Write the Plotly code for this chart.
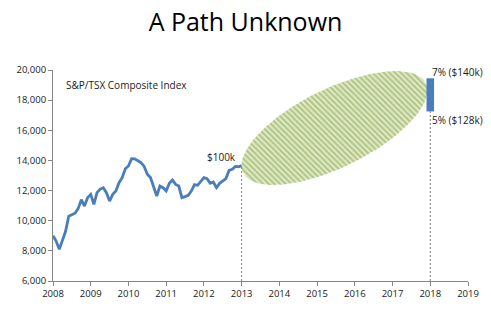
import numpy as np
import plotly.graph_objects as go

# --- data ---
index_values = [9000, 8650, 8100, 8760, 9300, 10300, 10420, 10500, 10800, 11400,
                10970, 11530, 11750, 11090, 11860, 12100, 12190, 11860, 11300, 11750,
                11970, 12520, 12860, 13450, 13630, 14120, 14100, 14000, 13850, 13600,
                13080, 12860, 12300, 11640, 12300, 12190, 11970, 12480, 12700, 12410,
                12300, 11530, 11600, 11690, 11970, 12400, 12350, 12630, 12860, 12790,
                12480, 12570, 12190, 12480, 12650, 12800, 13340, 13410, 13600, 13580,
                13650]
start_year = 2008
end_year = 2013
target_year = 2018
target_low = 17250    # 5% ($128k)
target_high = 19450   # 7% ($140k)
label_low = "5% ($128k)"
label_high = "7% ($140k)"
label_start = "$100k"
series_name = "S&P/TSX Composite Index"
year_ticks = list(range(2008, 2020))

months = np.arange(len(index_values))
x_dates = start_year + months / 12.0

# --- ellipse (cone of outcomes), defined in screen aspect then mapped to data ---
px_per_year = 37.9
px_per_unit = 211.0 / 14000.0
center = (2015.46, 16150)      # data coords
half_w_px = 93.4               # horizontal half extent (px)
half_h_px = 57.0               # vertical half extent (px)
cov_px = 3500.0                # tilt (up to the right)
a = half_w_px
b = cov_px / a
c = np.sqrt(half_h_px ** 2 - b ** 2)
t = np.linspace(0, 2 * np.pi, 240)
dx_px = a * np.cos(t)
dy_px = b * np.cos(t) + c * np.sin(t)
ell_x = center[0] + dx_px / px_per_year
ell_y = center[1] + dy_px / px_per_unit

fig = go.Figure()

fig.add_trace(go.Scatter(
    x=ell_x, y=ell_y, mode="lines", fill="toself",
    line=dict(width=0, color="rgba(0,0,0,0)"),
    fillcolor="#e2ebc9",
    fillpattern=dict(shape="\\", fgcolor="#7d9d40", bgcolor="#e2ebc9",
                     size=4, solidity=0.5),
    hoverinfo="skip", showlegend=False,
))

fig.add_trace(go.Scatter(
    x=x_dates, y=index_values, mode="lines",
    line=dict(color="#4a7ebb", width=2.8),
    showlegend=False,
))

# dashed drop lines
fig.add_trace(go.Scatter(
    x=[end_year, end_year], y=[6000, index_values[-1]], mode="lines",
    line=dict(color="#7f7f7f", width=1, dash="2px,2px"), showlegend=False))
fig.add_trace(go.Scatter(
    x=[target_year, target_year], y=[6000, target_low], mode="lines",
    line=dict(color="#7f7f7f", width=1, dash="2px,2px"), showlegend=False))

# target bar
fig.add_shape(type="rect", x0=target_year - 0.1, x1=target_year + 0.1,
              y0=target_low, y1=target_high,
              fillcolor="#4a7ebb", line=dict(width=0))

font_family = "Open Sans, Liberation Sans, sans-serif"
fig.add_annotation(x=2008.3, y=19000, text=series_name, showarrow=False,
                   xanchor="left", yanchor="middle",
                   font=dict(size=10, color="#1a1a1a", family=font_family))
fig.add_annotation(x=end_year - 0.1, y=14200, text=label_start, showarrow=False,
                   xanchor="right", yanchor="middle",
                   font=dict(size=10, color="#1a1a1a", family=font_family))
fig.add_annotation(x=target_year, y=target_high + 450, text=label_high, showarrow=False,
                   xanchor="left", yanchor="middle",
                   font=dict(size=10, color="#1a1a1a", family=font_family))
fig.add_annotation(x=target_year, y=target_low - 550, text=label_low, showarrow=False,
                   xanchor="left", yanchor="middle",
                   font=dict(size=10, color="#1a1a1a", family=font_family))

fig.update_layout(
    width=491, height=315,
    margin=dict(l=53, r=21, t=70, b=34),
    paper_bgcolor="white", plot_bgcolor="white",
    title=dict(text="A Path Unknown", x=0.5, xanchor="center", y=0.93, yanchor="middle",
               font=dict(size=25, color="#000000", family=font_family)),
    font=dict(family=font_family, size=9, color="#1a1a1a"),
)
fig.update_xaxes(range=[2008, 2019], tickmode="array", tickvals=year_ticks,
                 ticktext=[str(y) for y in year_ticks],
                 showgrid=False, zeroline=False, showline=True, linecolor="#868686",
                 linewidth=1, ticks="outside", ticklen=4, tickcolor="#868686",
                 tickfont=dict(size=9.5, color="#1a1a1a"))
fig.update_yaxes(range=[6000, 20000], dtick=2000, tickformat=",",
                 showgrid=False, zeroline=False, showline=True, linecolor="#868686",
                 linewidth=1, ticks="outside", ticklen=4, tickcolor="#868686",
                 tickfont=dict(size=9.5, color="#1a1a1a"))

fig.write_html("out.html")
